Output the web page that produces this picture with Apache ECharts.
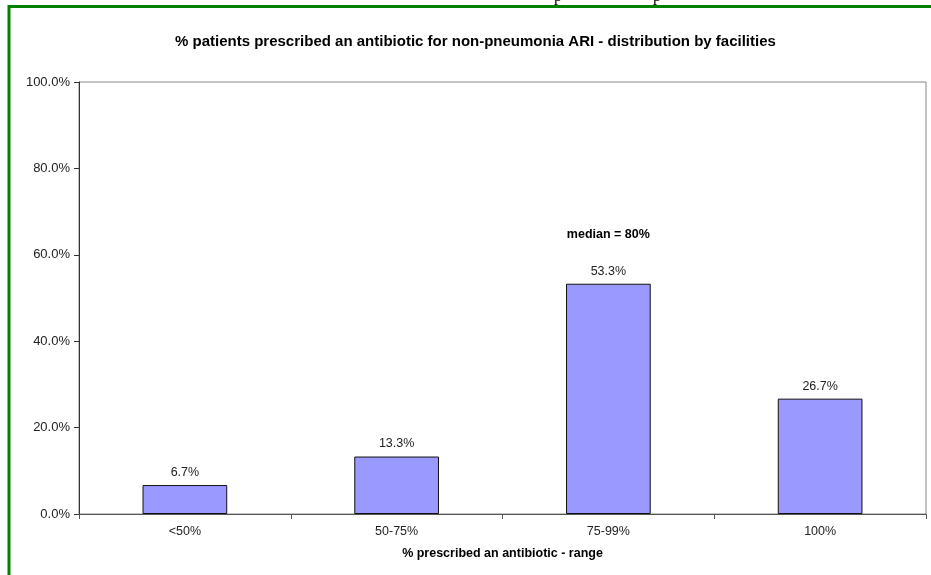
<!DOCTYPE html>
<html>
<head>
<meta charset="utf-8">
<script src="https://cdn.jsdelivr.net/npm/echarts@6/dist/echarts.min.js"></script>
<style>
html,body{margin:0;padding:0;background:#fff;}
#c{width:931px;height:575px;}
</style>
</head>
<body>
<div id="c"></div>
<script>
var titleText = '% patients prescribed an antibiotic for non-pneumonia ARI - distribution by facilities';
var xAxisName = '% prescribed an antibiotic - range';
var categories = ['<50%', '50-75%', '75-99%', '100%'];
var values = [0.067, 0.133, 0.533, 0.267];
var yTicks = [0, 0.2, 0.4, 0.6, 0.8, 1.0];
var annotationText = 'median = 80%';
var annotationCategory = '75-99%';
var annotationValue = 0.648;

var chart = echarts.init(document.getElementById('c'), null, {renderer: 'canvas'});
var font = 'Liberation Sans, Arial, sans-serif';
function pct(v){ return (v*100).toFixed(1) + '%'; }

chart.setOption({
  animation: false,
  backgroundColor: '#fff',
  textStyle: {fontFamily: font},
  title: {
    text: titleText,
    left: 175,
    top: 34,
    padding: 0,
    textStyle: {fontFamily: font, fontSize: 15, fontWeight: 'bold', color: '#000'}
  },
  grid: {left: 79, right: 5, top: 82, bottom: 61, show: true, borderColor: '#888', borderWidth: 1, containLabel: false},
  xAxis: {
    type: 'category',
    data: categories,
    name: xAxisName,
    nameLocation: 'middle',
    nameGap: 33,
    nameTextStyle: {fontFamily: font, fontSize: 12.5, fontWeight: 'bold', color: '#000'},
    axisLine: {lineStyle: {color: '#555', width: 1}},
    axisTick: {show: true, alignWithLabel: false, length: 5, lineStyle: {color: '#555'}},
    axisLabel: {fontFamily: font, fontSize: 12.5, color: '#222', margin: 11}
  },
  yAxis: {
    type: 'value',
    min: 0,
    max: 1,
    interval: 0.2,
    axisLine: {show: true, lineStyle: {color: '#333', width: 1}},
    axisTick: {show: true, length: 5, lineStyle: {color: '#333'}},
    splitLine: {show: false},
    axisLabel: {fontFamily: font, fontSize: 13, color: '#222', margin: 9,
      formatter: function(v){ return pct(v); }}
  },
  series: [{
    type: 'bar',
    data: values,
    barWidth: '40%',
    itemStyle: {color: '#9999FF', borderColor: '#111', borderWidth: 1},
    label: {show: true, position: 'top', distance: 6, fontFamily: font, fontSize: 12.5, color: '#222',
      formatter: function(p){ return pct(p.value); }},
    markPoint: {
      symbol: 'circle',
      symbolSize: 0,
      data: [{coord: [annotationCategory, annotationValue]}],
      label: {show: true, position: 'inside', formatter: annotationText,
        fontFamily: font, fontSize: 12.5, fontWeight: 'bold', color: '#000'}
    }
  }],
  graphic: [
    {type: 'rect', shape: {x: 9, y: 6.5, width: 1000, height: 700}, style: {fill: 'none', stroke: '#008000', lineWidth: 3}, z: 100},
    {type: 'text', x: 558, y: 5, style: {text: 'p', font: '16px Liberation Serif, serif', fill: '#000', textAlign: 'center', textVerticalAlign: 'bottom'}, z: 90},
    {type: 'text', x: 657, y: 5, style: {text: 'p', font: '16px Liberation Serif, serif', fill: '#000', textAlign: 'center', textVerticalAlign: 'bottom'}, z: 90}
  ]
});
</script>
</body>
</html>
